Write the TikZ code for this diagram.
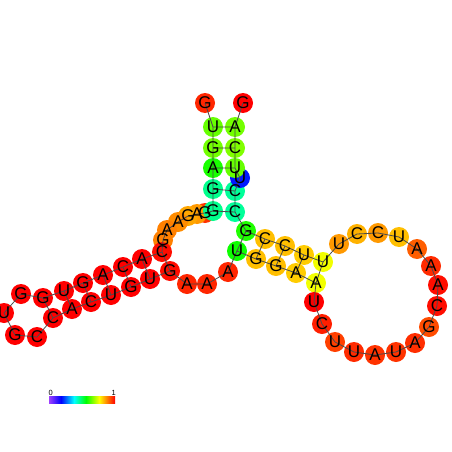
\documentclass[tikz,border=0pt]{standalone}
\usepackage{fontspec}
\newfontfamily\ntfont{Liberation Sans}
\definecolor{ylw}{rgb}{1,1,0}
\definecolor{cyn}{rgb}{0,1,1}
\definecolor{grn}{rgb}{0,1,0}
\definecolor{barviolet}{rgb}{0.62,0.25,1}
\pgfdeclarehorizontalshading{rainbow}{100bp}{color(0bp)=(barviolet); color(25bp)=(barviolet); color(34bp)=(blue); color(44bp)=(cyn); color(53bp)=(grn); color(63bp)=(ylw); color(75bp)=(red); color(100bp)=(red)}
\pgfdeclarelayer{disks}
\pgfdeclarelayer{lines}
\pgfsetlayers{disks,lines,main}
\tikzset{
  nt/.style={circle, minimum size=20pt, inner sep=0pt,
    font=\ntfont\fontsize{17}{17}\selectfont,
    append after command={\pgfextra{\begin{pgfinterruptpath}%
      \begin{pgfonlayer}{disks}\fill[#1] (\tikzlastnode.center) circle[radius=10pt];\end{pgfonlayer}%
      \end{pgfinterruptpath}}}},
  bb/.style={draw=black!70, line width=0.8pt}
}
\begin{document}
\begin{tikzpicture}[x=1pt, y=-1pt]
      \useasboundingbox (0,0) rectangle (452,452);
      % multiloop, left part
      \node[nt=red!80!ylw] (n7) at (205,213) {G};
      \node[nt=red!40!ylw] (n8) at (197,214) {A};
      \node[nt=red!35!ylw] (n9) at (188,216) {G};
      \node[nt=red!45!ylw] (n10) at (178,222) {A};
      \node[nt=red!50!ylw] (n11) at (167,230) {A};
      \node[nt=red!50!ylw] (n12) at (163,240) {G};
      % top stem, 5' strand
      \node[nt=red!85!ylw] (n1) at (205,103) {G};
      \node[nt=ylw!40!grn] (n2) at (213,127) {U};
      \node[nt=ylw!45!grn] (n3) at (213,148) {G};
      \node[nt=ylw!10!grn] (n4) at (213,168) {A};
      \node[nt=grn!45!cyn] (n5) at (213,189) {G};
      \node[nt=grn!45!cyn] (n6) at (213,211) {G};
      % left helix, upper strand
      \node[nt=red!95!ylw] (n13) at (162,252) {C};
      \node[nt=red] (n14) at (142,259) {A};
      \node[nt=red] (n15) at (123,267) {C};
      \node[nt=red] (n16) at (103,275) {A};
      \node[nt=red] (n17) at (83,283) {G};
      \node[nt=red] (n18) at (64,291) {U};
      \node[nt=red] (n19) at (43,298) {G};
      % left hairpin loop
      \node[nt=red] (n20) at (21,294) {G};
      \node[nt=red] (n21) at (4,313) {U};
      \node[nt=red] (n22) at (15,335) {G};
      \node[nt=red] (n23) at (37,337) {C};
      % left helix, lower strand
      \node[nt=red] (n24) at (53,318) {C};
      \node[nt=red] (n25) at (72,309) {A};
      \node[nt=red] (n26) at (91,302) {C};
      \node[nt=red] (n27) at (111,295) {U};
      \node[nt=red] (n28) at (131,287) {G};
      \node[nt=red] (n29) at (150,279) {U};
      \node[nt=red!95!ylw] (n30) at (170,271) {G};
      % multiloop, lower part
      \node[nt=red!85!ylw] (n31) at (187,284) {A};
      \node[nt=red!85!ylw] (n32) at (207,284) {A};
      \node[nt=red!85!ylw] (n33) at (228,272) {A};
      % right helix, lower strand
      \node[nt=ylw!5!grn] (n34) at (237,251) {U};
      \node[nt=red!25!ylw] (n35) at (256,259) {G};
      \node[nt=red!25!ylw] (n36) at (276,266) {G};
      \node[nt=red!20!ylw] (n37) at (296,273) {A};
      \node[nt=ylw!95!grn] (n38) at (316,283) {A};
      % right hairpin loop
      \node[nt=red] (n39) at (314,302) {U};
      \node[nt=red!88!ylw] (n40) at (322,324) {C};
      \node[nt=red!75!ylw] (n41) at (335,342) {U};
      \node[nt=red!83!ylw] (n42) at (354,352) {U};
      \node[nt=red!80!ylw] (n43) at (375,355) {A};
      \node[nt=red!80!ylw] (n44) at (396,352) {U};
      \node[nt=red!82!ylw] (n45) at (415,343) {A};
      \node[nt=red!70!ylw] (n46) at (429,327) {G};
      \node[nt=red!95!ylw] (n47) at (437,306) {C};
      \node[nt=red!95!ylw] (n48) at (438,285) {A};
      \node[nt=red!83!ylw] (n49) at (431,266) {A};
      \node[nt=red!63!ylw] (n50) at (417,249) {A};
      \node[nt=red!25!ylw] (n51) at (399,237) {U};
      \node[nt=red!40!ylw] (n52) at (378,233) {C};
      \node[nt=red!30!ylw] (n53) at (357,234) {C};
      \node[nt=red!40!ylw] (n54) at (339,244) {U};
      % right helix, upper strand
      \node[nt=ylw!95!grn] (n55) at (323,262) {U};
      \node[nt=red!20!ylw] (n56) at (304,255) {U};
      \node[nt=red!25!ylw] (n57) at (285,246) {C};
      \node[nt=red!25!ylw] (n58) at (265,239) {C};
      \node[nt=ylw!12!grn] (n59) at (246,231) {G};
      % top stem, 3' strand
      \node[nt=grn!40!cyn] (n60) at (235,212) {C};
      \node[nt=grn!40!cyn] (n61) at (235,191) {C};
      \node[nt=blue!90!cyn] (n62) at (240,178) {U};
      \node[nt=ylw!40!grn] (n63) at (235,168) {U};
      \node[nt=ylw!50!grn] (n64) at (235,148) {C};
      \node[nt=ylw!45!grn] (n65) at (235,127) {A};
      \node[nt=red] (n66) at (243,103) {G};
      \begin{pgfonlayer}{lines}
      % backbone
      \draw[bb] (n1.center) -- (n2.center) -- (n3.center) -- (n4.center)
        -- (n5.center) -- (n6.center) -- (n7.center) -- (n8.center)
        -- (n9.center) -- (n10.center) -- (n11.center) -- (n12.center)
        -- (n13.center) -- (n14.center) -- (n15.center) -- (n16.center)
        -- (n17.center) -- (n18.center) -- (n19.center) -- (n20.center)
        -- (n21.center) -- (n22.center) -- (n23.center) -- (n24.center)
        -- (n25.center) -- (n26.center) -- (n27.center) -- (n28.center)
        -- (n29.center) -- (n30.center) -- (n31.center) -- (n32.center)
        -- (n33.center) -- (n34.center) -- (n35.center) -- (n36.center)
        -- (n37.center) -- (n38.center) -- (n39.center) -- (n40.center)
        -- (n41.center) -- (n42.center) -- (n43.center) -- (n44.center)
        -- (n45.center) -- (n46.center) -- (n47.center) -- (n48.center)
        -- (n49.center) -- (n50.center) -- (n51.center) -- (n52.center)
        -- (n53.center) -- (n54.center) -- (n55.center) -- (n56.center)
        -- (n57.center) -- (n58.center) -- (n59.center) -- (n60.center)
        -- (n61.center) -- (n62.center) -- (n63.center) -- (n64.center)
        -- (n65.center) -- (n66.center);
      % base pairs
      \draw[bb] (n2.center) -- (n65.center) (n3.center) -- (n64.center)
        (n4.center) -- (n63.center) (n5.center) -- (n61.center)
        (n6.center) -- (n60.center);
      \draw[bb] (n13.center) -- (n30.center) (n14.center) -- (n29.center)
        (n15.center) -- (n28.center) (n16.center) -- (n27.center)
        (n17.center) -- (n26.center) (n18.center) -- (n25.center)
        (n19.center) -- (n24.center);
      \draw[bb] (n34.center) -- (n59.center) (n35.center) -- (n58.center)
        (n36.center) -- (n57.center) (n37.center) -- (n56.center)
        (n38.center) -- (n55.center);
      \end{pgfonlayer}
      % colour scale
      \node[shading=rainbow, minimum width=66pt, minimum height=7pt, inner sep=0pt] (bar) at (82,399.5) {};
      \node[anchor=south, inner sep=0.5pt, font=\ntfont\fontsize{7.5}{7.5}\selectfont] (lab0) at ([xshift=2pt]bar.north west) {0};
      \node[anchor=south, inner sep=0.5pt, font=\ntfont\fontsize{7.5}{7.5}\selectfont] (lab1) at ([xshift=-1.5pt]bar.north east) {1};
    \end{tikzpicture}
\end{document}
